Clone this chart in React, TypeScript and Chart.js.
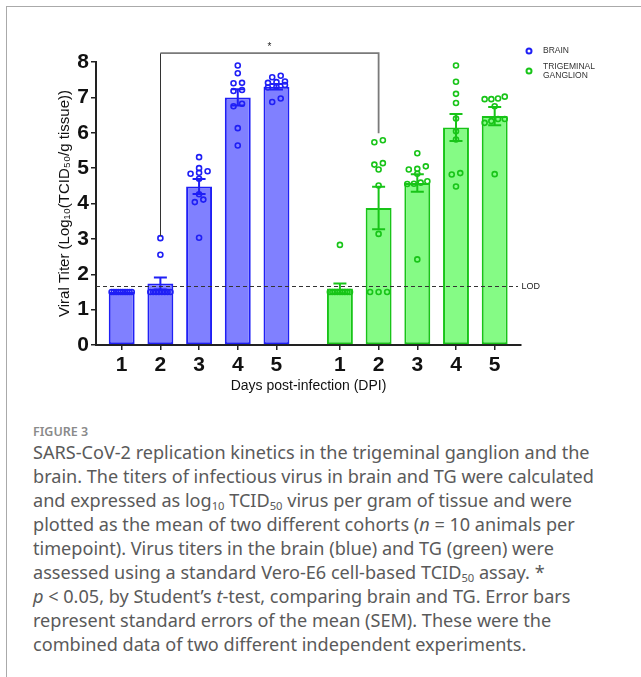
import { useEffect, useRef } from "react";
import { Chart, registerables } from "chart.js";

Chart.register(...registerables);

// Day labels shared by both tissue groups
const DAYS = ["1", "2", "3", "4", "5"];

// Bar heights (group means, log10 TCID50/g) and their SEM
const BRAIN_MEAN = [1.5, 1.74, 4.48, 7.0, 7.3];
const BRAIN_SEM = [0, 0.17, 0.21, 0.23, 0.08];
const TG_MEAN = [1.6, 3.87, 4.58, 6.15, 6.47];
const TG_SEM = [0.14, 0.6, 0.25, 0.38, 0.26];

// Individual animals, brain
const BRAIN_DAY1 = [1.5, 1.5, 1.5, 1.5, 1.5, 1.5, 1.5, 1.5, 1.5, 1.5];
const BRAIN_DAY2 = [3.02, 2.55, 1.5, 1.5, 1.5, 1.5, 1.5, 1.5, 1.5, 1.5];
const BRAIN_DAY3 = [5.31, 5.0, 4.91, 4.87, 4.84, 4.7, 4.26, 4.11, 4.04, 3.03];
const BRAIN_DAY4 = [7.9, 7.68, 7.41, 7.4, 7.21, 7.18, 6.82, 6.75, 6.13, 5.64];
const BRAIN_DAY5 = [7.61, 7.57, 7.45, 7.43, 7.41, 7.35, 7.3, 7.28, 6.97, 6.87];

// Individual animals, trigeminal ganglion
const TG_DAY1 = [2.83, 1.5, 1.5, 1.5, 1.5, 1.5, 1.5, 1.5, 1.5, 1.5];
const TG_DAY2 = [5.79, 5.73, 5.14, 5.1, 4.96, 4.51, 3.14, 1.5, 1.5, 1.5];
const TG_DAY3 = [5.42, 5.05, 4.98, 4.96, 4.84, 4.63, 4.59, 4.56, 4.55, 2.42];
const TG_DAY4 = [7.9, 7.44, 7.1, 6.84, 6.4, 6.04, 5.81, 4.86, 4.82, 4.48];
const TG_DAY5 = [7.02, 6.97, 6.95, 6.95, 6.75, 6.39, 6.39, 6.33, 6.28, 4.83];

const BRAIN_POINTS = [BRAIN_DAY1, BRAIN_DAY2, BRAIN_DAY3, BRAIN_DAY4, BRAIN_DAY5];
const TG_POINTS = [TG_DAY1, TG_DAY2, TG_DAY3, TG_DAY4, TG_DAY5];

// Limit of detection
const LOD = 1.66;

// Y axis
const Y_MIN = 0;
const Y_MAX = 8;

// Series labels
const SERIES = ["BRAIN", "TRIGEMINAL\nGANGLION"];

// Layout of the two groups along a linear x axis
const GROUP_GAP = 5.64;
const X_MIN = 0.336;
const X_MAX = 11.32;

const FONT = "'Liberation Sans', Arial, Helvetica, sans-serif";
const BLUE = "#1f1ff5";
const BLUE_FILL = "#8080ff";
const GREEN = "#18c418";
const GREEN_FILL = "#85fb85";

const brainX = DAYS.map((_, i) => i + 1);
const tgX = DAYS.map((_, i) => i + 1 + GROUP_GAP);
const tickPos = [...brainX, ...tgX];
const tickLabels = [...DAYS, ...DAYS];

// Spread overlapping dots sideways, like a scatter-dot column
const CLUSTER = 0.12;
const STEP = 0.22;
const MAX_SPAN = 0.52;
function swarm(values: number[], center: number) {
  const sorted = [...values].sort((a, b) => a - b);
  const out: { x: number; y: number }[] = [];
  let i = 0;
  while (i < sorted.length) {
    let j = i + 1;
    while (j < sorted.length && sorted[j] - sorted[i] <= CLUSTER) j++;
    const n = j - i;
    const step = n > 1 ? Math.min(STEP, MAX_SPAN / (n - 1)) : 0;
    for (let k = 0; k < n; k++) {
      out.push({ x: center + (k - (n - 1) / 2) * step, y: sorted[i + k] });
    }
    i = j;
  }
  return out;
}

const overlayPlugin = {
  id: "overlay",
  afterDatasetDraw(chart: any, args: any) {
    const meta = args.meta;
    if (meta.type !== "bar") return;
    const ds = chart.data.datasets[args.index];
    const sem: number[] = ds.sem;
    const xs = chart.scales.x;
    const ys = chart.scales.y;
    const ctx = chart.ctx;
    ctx.save();
    ctx.strokeStyle = ds.borderColor;
    ctx.lineWidth = 2;
    ds.data.forEach((d: any, i: number) => {
      if (!sem[i]) return;
      const cx = xs.getPixelForValue(d.x);
      const top = ys.getPixelForValue(d.y + sem[i]);
      const bot = ys.getPixelForValue(d.y - sem[i]);
      ctx.beginPath();
      ctx.moveTo(cx, top);
      ctx.lineTo(cx, bot);
      ctx.moveTo(cx - 6.5, top);
      ctx.lineTo(cx + 6.5, top);
      ctx.moveTo(cx - 6.5, bot);
      ctx.lineTo(cx + 6.5, bot);
      ctx.stroke();
    });
    ctx.restore();
  },
  afterDraw(chart: any) {
    const ctx = chart.ctx;
    const xs = chart.scales.x;
    const ys = chart.scales.y;
    const area = chart.chartArea;
    ctx.save();

    // limit of detection
    const ly = Math.round(ys.getPixelForValue(LOD)) + 0.5;
    ctx.strokeStyle = "#333";
    ctx.lineWidth = 1.2;
    ctx.setLineDash([4, 3]);
    ctx.beginPath();
    ctx.moveTo(area.left, ly);
    ctx.lineTo(area.right - 3, ly);
    ctx.stroke();
    ctx.setLineDash([]);
    ctx.fillStyle = "#222";
    ctx.font = `9px ${FONT}`;
    ctx.textAlign = "left";
    ctx.textBaseline = "middle";
    ctx.fillText("LOD", area.right + 0.5, ly);

    // significance bracket between brain and TG on day 2
    const bx1 = xs.getPixelForValue(brainX[1]);
    const bx2 = xs.getPixelForValue(tgX[1]);
    const by = ys.getPixelForValue(8.25);
    const end1 = ys.getPixelForValue(Math.max(...BRAIN_DAY2)) - 2;
    const end2 = ys.getPixelForValue(Math.max(...TG_DAY2)) - 7;
    ctx.strokeStyle = "#333";
    ctx.lineWidth = 1;
    ctx.beginPath();
    ctx.moveTo(Math.round(bx1) + 0.5, by);
    ctx.lineTo(Math.round(bx1) + 0.5, end1);
    ctx.stroke();
    ctx.strokeStyle = "#7a7a7a";
    ctx.lineWidth = 1.8;
    ctx.beginPath();
    ctx.moveTo(bx1, by);
    ctx.lineTo(bx2, by);
    ctx.lineTo(bx2, end2);
    ctx.stroke();
    ctx.fillStyle = "#222";
    ctx.font = `10px ${FONT}`;
    ctx.textAlign = "center";
    ctx.textBaseline = "middle";
    ctx.fillText("*", (bx1 + bx2) / 2, by - 6);

    // legend
    const lx = area.right + 8;
    const entries = [
      { color: BLUE, y: area.top - 11 },
      { color: GREEN, y: area.top + 9 },
    ];
    ctx.font = `8.5px ${FONT}`;
    ctx.textAlign = "left";
    entries.forEach((e, i) => {
      ctx.strokeStyle = e.color;
      ctx.lineWidth = 2;
      ctx.beginPath();
      ctx.arc(lx, e.y, 2.5, 0, Math.PI * 2);
      ctx.stroke();
      ctx.fillStyle = "#333";
      const lines = SERIES[i].split("\n");
      lines.forEach((t, k) => {
        const ty = e.y - ((lines.length - 1) * 9.5) / 2 + k * 9.5;
        ctx.fillText(t, lx + 14, ty);
      });
    });
    ctx.restore();
  },
};

export default function App() {
  const ref = useRef<HTMLCanvasElement | null>(null);

  useEffect(() => {
    if (!ref.current) return;
    const pointStyle = (color: string) => ({
      pointRadius: 2.5,
      pointBorderWidth: 1.6,
      pointBorderColor: color,
      pointBackgroundColor: "rgba(0,0,0,0)",
      showLine: false,
      order: 1,
    });
    const chart = new Chart(ref.current, {
      type: "bar",
      data: {
        datasets: [
          {
            type: "scatter",
            label: "BRAIN points",
            data: BRAIN_POINTS.flatMap((vals, i) => swarm(vals, brainX[i])),
            ...pointStyle(BLUE),
          } as any,
          {
            type: "scatter",
            label: "TG points",
            data: TG_POINTS.flatMap((vals, i) => swarm(vals, tgX[i])),
            ...pointStyle(GREEN),
          } as any,
          {
            type: "bar",
            label: "BRAIN",
            data: BRAIN_MEAN.map((v, i) => ({ x: brainX[i], y: v })),
            sem: BRAIN_SEM,
            backgroundColor: BLUE_FILL,
            borderColor: BLUE,
            borderWidth: 2,
            borderSkipped: false,
            grouped: false,
            barPercentage: 0.67,
            categoryPercentage: 1,
            order: 2,
          } as any,
          {
            type: "bar",
            label: "TRIGEMINAL GANGLION",
            data: TG_MEAN.map((v, i) => ({ x: tgX[i], y: v })),
            sem: TG_SEM,
            backgroundColor: GREEN_FILL,
            borderColor: GREEN,
            borderWidth: 2,
            borderSkipped: false,
            grouped: false,
            barPercentage: 0.67,
            categoryPercentage: 1,
            order: 2,
          } as any,
        ],
      },
      options: {
        responsive: false,
        animation: false,
        events: [],
        layout: { padding: { top: 62, right: 120, bottom: 0, left: 0 } },
        plugins: { legend: { display: false }, tooltip: { enabled: false } },
        scales: {
          x: {
            type: "linear",
            min: X_MIN,
            max: X_MAX,
            offset: false,
            afterBuildTicks: (s: any) => {
              s.ticks = tickPos.map((v) => ({ value: v }));
            },
            afterFit: (s: any) => {
              s.height = 55;
            },
            ticks: {
              autoSkip: false,
              maxRotation: 0,
              padding: 3,
              color: "#111",
              font: { size: 21, weight: "bold", family: FONT },
              callback: (_v: any, i: number) => tickLabels[i],
            },
            grid: {
              display: true,
              offset: false,
              drawOnChartArea: false,
              drawTicks: true,
              tickLength: 5,
              color: "#222",
              lineWidth: 1.5,
            },
            border: { display: true, color: "#222", width: 2 },
            title: {
              display: true,
              text: "Days post-infection (DPI)",
              color: "#111",
              font: { size: 14, family: FONT },
              padding: { top: 0, bottom: 5 },
            },
          } as any,
          y: {
            min: Y_MIN,
            max: Y_MAX,
            afterFit: (s: any) => {
              s.width = 96;
            },
            ticks: {
              stepSize: 1,
              padding: 2,
              color: "#111",
              font: { size: 21, weight: "bold", family: FONT },
            },
            grid: {
              display: true,
              drawOnChartArea: false,
              drawTicks: true,
              tickLength: 5,
              color: "#222",
              lineWidth: 1.5,
            },
            border: { display: true, color: "#222", width: 2 },
            title: {
              display: true,
              text: "Viral Titer (Log\u2081\u2080(TCID\u2085\u2080/g tissue))",
              color: "#111",
              font: { size: 15, family: FONT },
              padding: { top: 56, bottom: 0 },
            },
          } as any,
        },
      },
      plugins: [overlayPlugin],
    });
    return () => chart.destroy();
  }, []);

  const sub = {
    fontSize: "0.62em",
    verticalAlign: "baseline",
    position: "relative" as const,
    top: "0.28em",
  };
  const line = { height: 24, lineHeight: "24px", whiteSpace: "nowrap" as const };

  return (
    <div
      style={{
        position: "absolute",
        left: 0,
        top: 0,
        width: 641,
        height: 677,
        background: "#fff",
        overflow: "hidden",
      }}
    >
      <div
        style={{
          position: "absolute",
          left: 6,
          top: 6,
          right: 0,
          bottom: 0,
          borderTop: "1px solid #aaa",
          borderLeft: "1px solid #aaa",
        }}
      />
      <canvas
        ref={ref}
        width={641}
        height={400}
        style={{ position: "absolute", left: 0, top: 0, width: 641, height: 400 }}
      />
      <div
        style={{
          position: "absolute",
          left: 33,
          top: 424,
          fontFamily: "'Noto Sans', 'Open Sans', sans-serif",
          color: "#5a5a5a",
        }}
      >
        <div style={{ height: 16, lineHeight: "16px", fontSize: 12.5, color: "#8a8a8a", fontWeight: 600 }}>
          FIGURE 3
        </div>
        <div style={{ fontSize: 18.1 }}>
          <div style={line}>SARS-CoV-2 replication kinetics in the trigeminal ganglion and the</div>
          <div style={line}>brain. The titers of infectious virus in brain and TG were calculated</div>
          <div style={line}>
            and expressed as log<span style={sub}>10</span> TCID<span style={sub}>50</span> virus per gram of
            tissue and were
          </div>
          <div style={line}>
            plotted as the mean of two different cohorts (<i>n</i> = 10 animals per
          </div>
          <div style={line}>timepoint). Virus titers in the brain (blue) and TG (green) were</div>
          <div style={line}>
            assessed using a standard Vero-E6 cell-based TCID<span style={sub}>50</span> assay. *
          </div>
          <div style={line}>
            <i>p</i> &lt; 0.05, by Student’s <i>t</i>-test, comparing brain and TG. Error bars
          </div>
          <div style={line}>represent standard errors of the mean (SEM). These were the</div>
          <div style={line}>combined data of two different independent experiments.</div>
        </div>
      </div>
    </div>
  );
}
